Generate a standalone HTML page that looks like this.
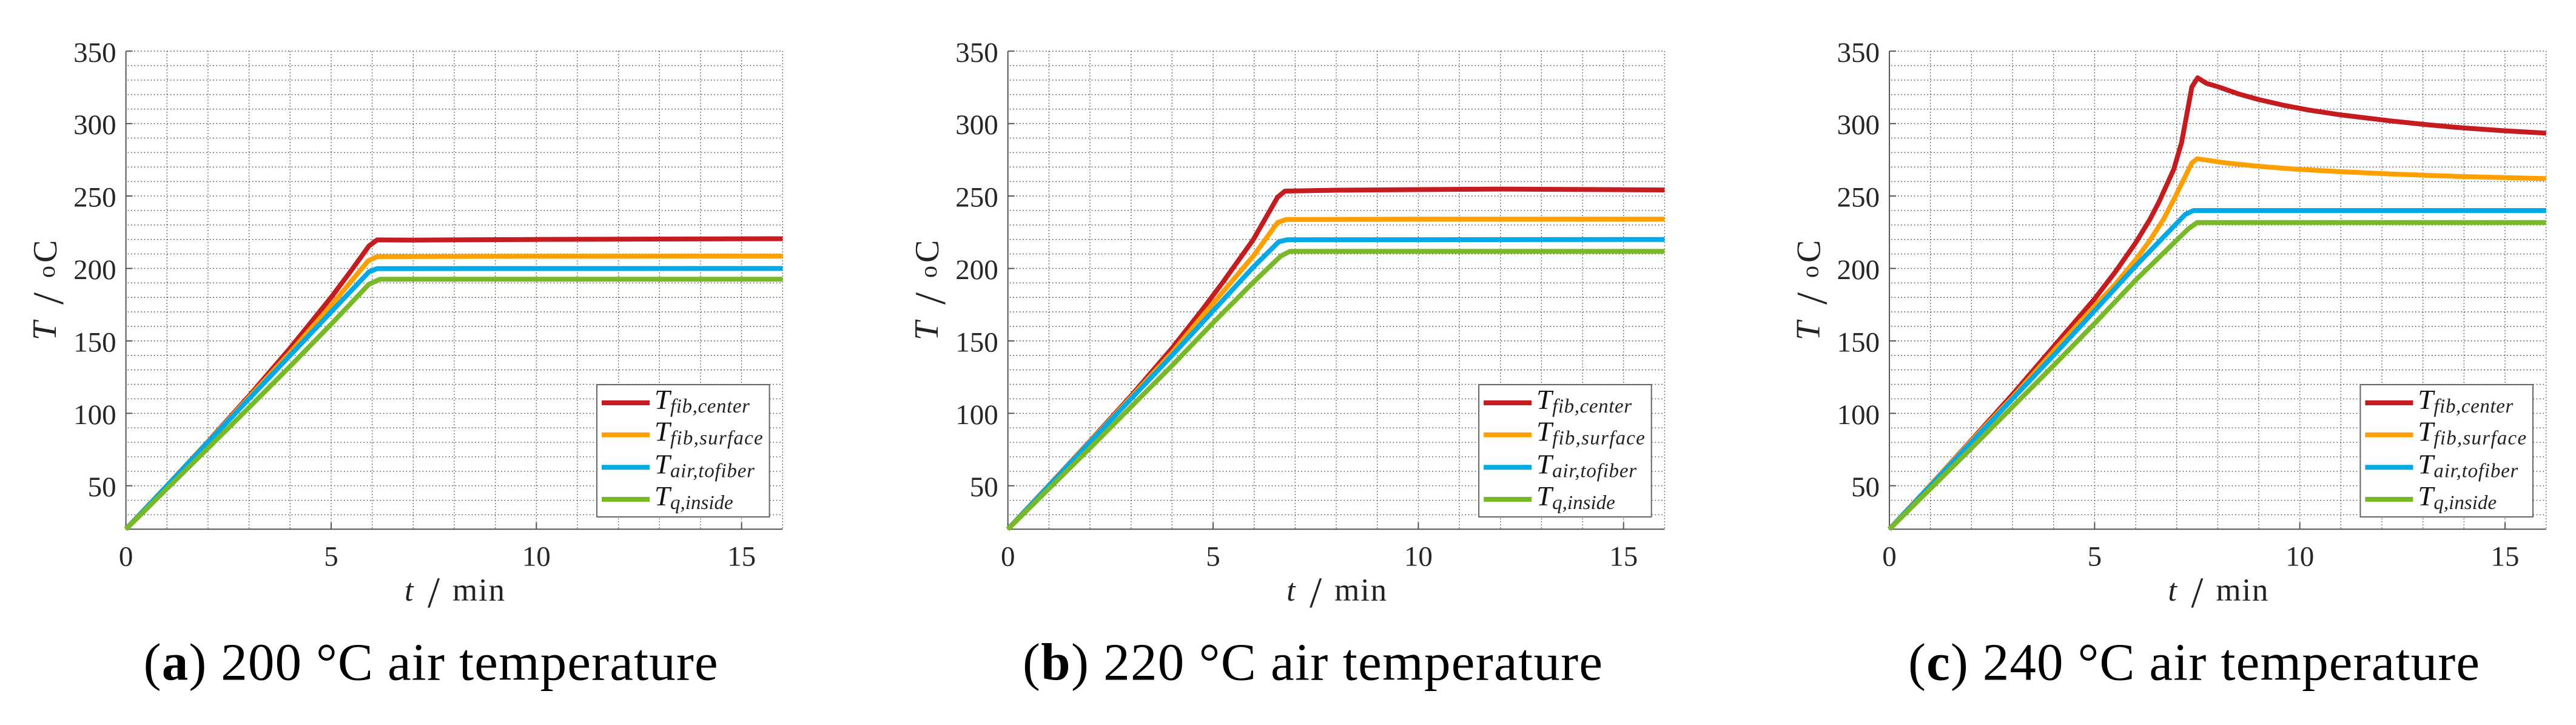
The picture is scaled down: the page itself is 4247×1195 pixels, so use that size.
<!DOCTYPE html>
<html lang="en">
<head>
<meta charset="utf-8">
<title>Temperature curves at 200, 220 and 240 °C air temperature</title>
<style>
html,body{margin:0;padding:0;background:#fff;}
#figure{display:block;width:4247px;height:1195px;background:#fff;}
text{font-family:"Liberation Serif","DejaVu Serif",serif;}
.tick{font-size:47px;fill:#262626;}
.caption{font-size:87px;fill:#000;}
.it{font-style:italic;}
.axis{stroke:#555;stroke-width:2;fill:none;}
.grid-h{stroke:#444;stroke-width:1.4;stroke-dasharray:1.6 3.8;fill:none;}
.grid-v{stroke:#555;stroke-width:1.4;stroke-dasharray:1.6 3.4;fill:none;}
.curve{fill:none;stroke-width:8;stroke-linejoin:round;stroke-linecap:butt;}
.s0{stroke:#c41c1f;}
.s1{stroke:#ffa000;}
.s2{stroke:#00a9e8;}
.s3{stroke:#78b928;}
.legend-box{fill:#fff;stroke:#666;stroke-width:2;}
.title{fill:#222;}
</style>
</head>
<body>
<svg id="figure" xmlns="http://www.w3.org/2000/svg" width="4247" height="1195" viewBox="0 0 4247 1195">
  <text class="caption" x="236.6" y="1120.7" textLength="947">(<tspan font-weight="bold">a</tspan>) 200 °C air temperature</text>
  <text class="caption" x="1686" y="1120.7" textLength="956">(<tspan font-weight="bold">b</tspan>) 220 °C air temperature</text>
  <text class="caption" x="3146" y="1120.7" textLength="942">(<tspan font-weight="bold">c</tspan>) 240 °C air temperature</text>
</svg>
<script>
// Axis ticks and labels
const xTickValues = [0, 5, 10, 15];
const yTickValues = [50, 100, 150, 200, 250, 300, 350];
const xGridValues = [1, 2, 3, 4, 5, 6, 7, 8, 9, 10, 11, 12, 13, 14, 15, 16];
const yGridValues = [30, 40, 50, 60, 70, 80, 90, 100, 110, 120, 130, 140, 150, 160, 170, 180, 190, 200, 210, 220, 230, 240, 250, 260, 270, 280, 290, 300, 310, 320, 330, 340, 350];
const seriesKeys = ['fib-center', 'fib-surface', 'air-tofiber', 'q-inside'];
const legendSubscripts = ['fib,center', 'fib,surface', 'air,tofiber', 'q,inside'];

// Panel (a) 200 °C
const timeACenter = [0, 1, 2, 3, 4, 5, 5.5, 5.92, 6.12, 7, 10, 16];
const tempACenter = [20, 50, 80.5, 112, 145, 180, 199, 215.5, 219.7, 219.6, 220, 220.5];
const timeASurface = [0, 1, 2, 3, 4, 5, 5.9, 6.12, 10, 16];
const tempASurface = [20, 50, 80.3, 111, 142, 174.5, 205.2, 208.2, 208.4, 208.5];
const timeAAir = [0, 1, 2, 3, 4, 5, 5.92, 6.12, 16];
const tempAAir = [20, 50, 80, 110, 140, 170, 197.6, 199.9, 200];
const timeAInside = [0, 1, 2, 3, 4, 5, 5.92, 6.19, 16];
const tempAInside = [20, 48, 76, 104, 132.5, 161.5, 189.1, 192.6, 192.6];

// Panel (b) 220 °C
const timeBCenter = [0, 1, 2, 3, 4, 4.75, 5.25, 5.98, 6.57, 6.75, 8, 12, 16];
const tempBCenter = [20, 50.3, 80.8, 112, 145, 172, 191, 220, 249.2, 253.4, 254, 254.8, 254.2];
const timeBSurface = [0, 1, 2, 3, 4, 4.75, 5.98, 6.57, 6.78, 10, 16];
const tempBSurface = [20, 50.2, 80.5, 111, 142, 167.5, 208.6, 231.7, 233.8, 234, 234];
const timeBAir = [0, 1, 2, 3, 4, 4.75, 5.98, 6.6, 6.8, 16];
const tempBAir = [20, 50, 80, 110, 140, 163, 201, 218.4, 219.8, 220];
const timeBInside = [0, 1, 2, 3, 4, 5, 5.98, 6.65, 6.87, 16];
const tempBInside = [20, 48, 76, 104.5, 133, 162.5, 190.5, 208.6, 211.8, 211.8];

// Panel (c) 240 °C
const timeCCenter = [0, 1, 2, 3, 4, 5, 5.5, 6, 6.35, 6.57, 6.93, 7.12, 7.37, 7.51, 7.72, 8, 8.5, 9, 9.6, 10.2, 11, 12.2, 13, 13.8, 15, 16];
const tempCCenter = [20, 50.5, 81.5, 113, 146, 179, 197.5, 217.7, 234, 246, 268.5, 287, 325.3, 331.6, 327.8, 325.5, 320.5, 316.6, 312.7, 309.4, 306, 301.9, 299.5, 297.4, 295, 293.4];
const timeCSurface = [0, 1, 2, 3, 4, 5, 5.5, 6, 6.35, 6.69, 6.97, 7.37, 7.5, 8.2, 9, 9.8, 11, 12.2, 14, 16];
const tempCSurface = [20, 50.5, 81, 111, 143, 174, 189, 206, 219.5, 234.5, 249.9, 272.9, 275.7, 272.8, 270.5, 268.7, 266.8, 265.2, 263.4, 262];
const timeCAir = [0, 1, 2, 3, 4, 5, 6, 7.21, 7.41, 16];
const tempCAir = [20, 50, 80, 110, 140, 170.8, 201.7, 237.3, 240, 240];
const timeCInside = [0, 1, 2, 3, 4, 5, 6, 7.29, 7.5, 16];
const tempCInside = [20, 48, 76, 104.5, 133, 162, 191.9, 227.5, 231.7, 231.7];

const SVG_NS = 'http://www.w3.org/2000/svg';
const figure = document.getElementById('figure');
const TOP = 84.3, BOTTOM = 872.3, WIDTH = 1082.7;
const X_MAX = 16, Y_MIN = 20, Y_MAX = 350;

function yPos(v) { return BOTTOM - (v - Y_MIN) / (Y_MAX - Y_MIN) * (BOTTOM - TOP); }
function xPos(left, t) { return left + t / X_MAX * WIDTH; }

function make(parent, tag, attrs, content) {
  const node = document.createElementNS(SVG_NS, tag);
  for (const k in attrs) node.setAttribute(k, attrs[k]);
  if (content !== undefined) node.textContent = content;
  parent.appendChild(node);
  return node;
}

function drawPanel(id, left, curves) {
  const right = left + WIDTH;
  const panel = make(figure, 'g', {});
  
  

  xGridValues.forEach(function (t) {
    const el = make(panel, 'line', { class: 'grid-v', x1: xPos(left, t), x2: xPos(left, t), y1: TOP, y2: BOTTOM });
    
    
  });
  yGridValues.forEach(function (v) {
    const el = make(panel, 'line', { class: 'grid-h', x1: left + 3, x2: right, y1: yPos(v), y2: yPos(v) });
    
    
  });

  const yAxis = make(panel, 'line', { class: 'axis', x1: left, x2: left, y1: TOP, y2: BOTTOM + 1 });
  
  
  const xAxis = make(panel, 'line', { class: 'axis', x1: left, x2: right, y1: BOTTOM, y2: BOTTOM });
  
  

  yTickValues.forEach(function (v) {
    const mark = make(panel, 'line', { class: 'axis', x1: left, x2: left + 11, y1: yPos(v), y2: yPos(v) });
    
    
    const label = make(panel, 'text', { class: 'tick', x: left - 16, y: yPos(v) + 17.5, 'text-anchor': 'end' }, String(v));
    
    
  });
  xTickValues.forEach(function (t) {
    const mark = make(panel, 'line', { class: 'axis', x1: xPos(left, t), x2: xPos(left, t), y1: BOTTOM, y2: BOTTOM - 11 });
    
    
    const label = make(panel, 'text', { class: 'tick', x: xPos(left, t), y: 932.5, 'text-anchor': 'middle' }, String(t));
    
    
  });

  curves.forEach(function (pair, i) {
    const pts = pair[0].map(function (t, k) { return xPos(left, t).toFixed(1) + ',' + yPos(pair[1][k]).toFixed(1); }).join(' ');
    const line = make(panel, 'polyline', { class: 'curve s' + i, points: pts });
    
    
  });

  // x axis title
  const xTitle = make(panel, 'g', {});
  
  
  make(xTitle, 'text', { class: 'title it', 'font-size': 52, x: left + 459.4, y: 990 }, 't');
  make(xTitle, 'text', { class: 'title', 'font-size': 72, x: left + 497.4, y: 1001 }, '/');
  make(xTitle, 'text', { class: 'title', 'font-size': 53, x: left + 538.4, y: 990, textLength: 86 }, 'min');

  // y axis title
  const dx = left - 207.6;
  const yTitle = make(panel, 'g', {});
  
  
  make(yTitle, 'text', { class: 'title it', 'font-size': 56, transform: 'translate(' + (92 + dx) + ',561) rotate(-90)' }, 'T');
  make(yTitle, 'text', { class: 'title', 'font-size': 72, transform: 'translate(' + (104 + dx) + ',502) rotate(-90)' }, '/');
  make(yTitle, 'text', { class: 'title', 'font-size': 40, transform: 'translate(' + (90 + dx) + ',458) rotate(-90)' }, 'o');
  make(yTitle, 'text', { class: 'title', 'font-size': 56, transform: 'translate(' + (93 + dx) + ',433) rotate(-90)' }, 'C');

  // legend
  const lx = left + 776.4;
  const legend = make(panel, 'g', {});
  
  
  make(legend, 'rect', { class: 'legend-box', x: lx, y: 634, width: 284.6, height: 218 });
  const rowCenters = [664, 716.7, 770.3, 823];
  const subWidths = [131, 152.7, 139, 103.7];
  seriesKeys.forEach(function (key, i) {
    const row = make(legend, 'g', {});
    
    
    make(row, 'line', { class: 's' + i, 'stroke-width': 8, x1: lx + 8, x2: lx + 87, y1: rowCenters[i], y2: rowCenters[i] });
    make(row, 'text', { class: 'it', 'font-size': 46, fill: '#111', x: lx + 95, y: rowCenters[i] + 10 }, 'T');
    make(row, 'text', { class: 'it', 'font-size': 33, fill: '#222', x: lx + 121, y: rowCenters[i] + 16, textLength: subWidths[i] }, legendSubscripts[i]);
  });
}

drawPanel('a', 207.6, [[timeACenter, tempACenter], [timeASurface, tempASurface], [timeAAir, tempAAir], [timeAInside, tempAInside]]);
drawPanel('b', 1661.7, [[timeBCenter, tempBCenter], [timeBSurface, tempBSurface], [timeBAir, tempBAir], [timeBInside, tempBInside]]);
drawPanel('c', 3115, [[timeCCenter, tempCCenter], [timeCSurface, tempCSurface], [timeCAir, tempCAir], [timeCInside, tempCInside]]);
</script>
</body>
</html>
